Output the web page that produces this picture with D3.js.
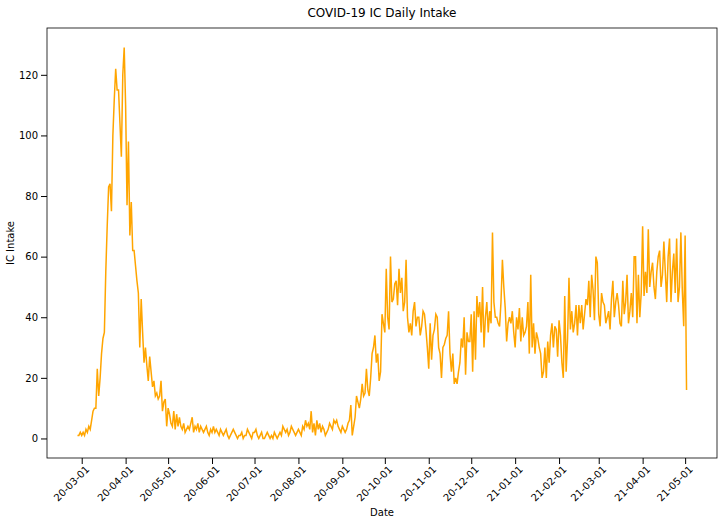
<!DOCTYPE html>
<html>
<head>
<meta charset="utf-8">
<script src="https://cdn.jsdelivr.net/npm/d3@7"></script>
<style>
  body { margin: 0; background: #fff; }
  text { font-family: "DejaVu Sans", sans-serif; }
</style>
</head>
<body>
<svg id="chart" width="724" height="525"></svg>
<script>
const startDate = '2020-02-27';
// daily intake, month by month
const feb20 = [1, 1, 2];
const mar20 = [1,2,1,3,2,4,3,6,9,10,10,23,14,20,28,33,35,55,70,83,84,75,100,112,122,115,115,104,93,120,129];
const apr20 = [110,77,98,67,78,62,62,57,52,48,30,46,35,25,30,24,19,27,22,17,19,14,15,13,14,19,9,12,13,4];
const may20 = [10,8,5,4,9,3,8,4,7,4,3,5,2,3,4,3,5,7,2,4,3,5,2,4,3,2,3,4,2,1,3];
const jun20 = [2,4,2,3,2,1,3,2,1,2,3,1,0,1,2,3,2,1,0,1,1,2,0,1,1,3,2,1,0,2];
const jul20 = [2,3,1,0,1,2,0,0,1,2,1,0,1,0,2,1,0,1,2,1,4,3,2,3,1,2,4,3,2,1,2];
const aug20 = [3,2,1,4,3,6,4,5,3,9,2,5,1,6,3,5,2,4,3,1,2,3,5,4,3,6,5,6,4,3,2];
const sep20 = [4,3,2,3,5,6,11,1,4,7,14,12,10,13,18,14,15,23,16,14,20,28,30,34,25,28,19,22,41,38];
const oct20 = [35,56,40,36,60,45,46,51,52,44,56,48,53,42,45,59,40,35,38,34,42,45,37,40,40,34,37,42,41,36,30];
const nov20 = [23,38,26,34,36,41,40,30,28,20,30,31,33,34,42,28,22,28,18,20,18,22,25,33,30,40,21,35,32,32];
const dec20 = [41,22,42,26,47,40,45,35,50,30,40,45,35,42,38,68,45,40,40,38,37,45,59,50,43,32,38,40,38,42,35];
const jan21 = [30,40,36,43,32,40,34,35,37,45,28,54,30,38,28,35,33,30,28,20,22,30,20,32,25,34,38,30,37,36,27];
const feb21 = [39,34,25,20,47,22,33,53,36,42,35,38,44,34,44,38,44,36,41,46,44,52,40,54,49,39,60,58];
const mar21 = [41,37,48,45,44,38,40,42,36,46,52,40,45,48,44,38,37,52,41,45,54,38,42,48,40,60,60,38,54,40,48];
const apr21 = [70,47,55,48,69,50,55,58,50,46,55,60,62,50,54,65,55,45,60,66,45,55,61,48,66,45,50,68,49,37];
const may21 = [67, 16];

const values = [].concat(feb20, mar20, apr20, may20, jun20, jul20, aug20, sep20,
  oct20, nov20, dec20, jan21, feb21, mar21, apr21, may21);
const t0 = d3.timeParse('%Y-%m-%d')(startDate);
const data = values.map((v, i) => ({ date: d3.timeDay.offset(t0, i), value: v }));

const svg = d3.select('#chart');
const mLeft = 47, mRight = 717, mTop = 28, mBottom = 458;

const ext = d3.extent(data, d => d.date);
const pad = (ext[1] - ext[0]) * 0.05;
const x = d3.scaleTime()
  .domain([new Date(+ext[0] - pad), new Date(+ext[1] + pad)])
  .range([mLeft, mRight]);
const y = d3.scaleLinear().domain([-6.45, 135.45]).range([mBottom, mTop]);

const xAxis = svg.append('g')
  .attr('transform', `translate(0,${mBottom})`)
  .call(d3.axisBottom(x).ticks(d3.timeMonth.every(1)).tickFormat(d3.timeFormat('%y-%m-%d')).tickSizeOuter(0));
xAxis.selectAll('text')
  .attr('text-anchor', 'end')
  .attr('transform', 'rotate(-45)')
  .attr('dx', '-0.3em').attr('dy', '0.5em')
  .style('font-size', '10px');

const yAxis = svg.append('g')
  .attr('transform', `translate(${mLeft},0)`)
  .call(d3.axisLeft(y).tickValues(d3.range(0, 121, 20)).tickSizeOuter(0));
yAxis.selectAll('text').style('font-size', '10px');
svg.selectAll('.domain').remove();

svg.append('rect')
  .attr('x', mLeft).attr('y', mTop)
  .attr('width', mRight - mLeft).attr('height', mBottom - mTop)
  .attr('fill', 'none').attr('stroke', '#000').attr('stroke-width', 0.8);

svg.append('path')
  .datum(data)
  .attr('fill', 'none')
  .attr('stroke', 'orange')
  .attr('stroke-width', 1.5)
  .attr('d', d3.line().x(d => x(d.date)).y(d => y(d.value)));

svg.append('text')
  .attr('x', (mLeft + mRight) / 2).attr('y', 17)
  .attr('text-anchor', 'middle').style('font-size', '12px')
  .text('COVID-19 IC Daily Intake');
svg.append('text')
  .attr('x', (mLeft + mRight) / 2).attr('y', 516)
  .attr('text-anchor', 'middle').style('font-size', '10px')
  .text('Date');
svg.append('text')
  .attr('transform', `translate(14,${(mTop + mBottom) / 2}) rotate(-90)`)
  .attr('text-anchor', 'middle').style('font-size', '10px')
  .text('IC Intake');
</script>
</body>
</html>
